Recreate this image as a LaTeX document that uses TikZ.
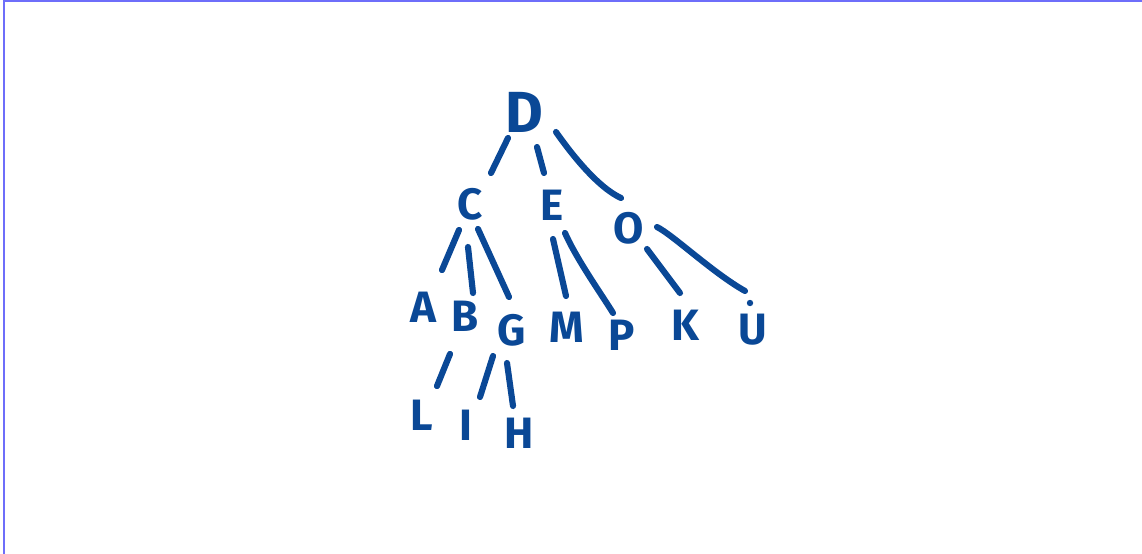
\documentclass[tikz,border=0pt]{standalone}
\usepackage{fontspec}
\setmainfont{Fira Sans}
\usetikzlibrary{calc}
\definecolor{ink}{RGB}{10,72,150}
\definecolor{framec}{RGB}{110,110,250}
\begin{document}
\begin{tikzpicture}[x=0.02cm,y=-0.02cm,
  letter/.style={text=ink,font=\fontsize{25}{25}\selectfont\bfseries,inner sep=0pt},
  big/.style={font=\fontsize{33}{33}\selectfont\bfseries},
  edge/.style={draw=ink,line width=3.5pt,line cap=round}]
\useasboundingbox (0,0) rectangle (1142,554);
\draw[framec,line width=0.9pt] (3.75,554) -- (3.75,1) -- (1142,1);
% nodes
\node[letter,big] (D) at (524,112) {D};
\node[letter] (C) at (470,204) {C};
\node[letter] (E) at (552,205) {E};
\node[letter] (O) at (629,228) {O};
\node[letter] (A) at (423,307) {A};
\node[letter] (B) at (465,316) {B};
\node[letter] (G) at (512,330) {G};
\node[letter] (M) at (567,327) {M};
\node[letter] (P) at (622,335) {P};
\node[letter] (K) at (685,325) {K};
\node[letter] (U) at (753,330) {U};
\node[letter] (L) at (422,415) {L};
\node[letter] (I) at (466,425) {I};
\node[letter] (H) at (519,433) {H};
% connectors
\draw[edge] ($(D)+(-16,26)$) -- ($(C)+(21,-31)$);
\draw[edge] ($(D)+(13,35)$) -- ($(E)+(-8,-32)$);
\draw[edge] ($(D)+(32,20)$) .. controls ($(D)+(46,40)$) and ($(O)+(-32,-41)$) .. ($(O)+(-8,-30)$);
\draw[edge] ($(C)+(-11,26)$) -- ($(A)+(19,-37)$);
\draw[edge] ($(C)+(-2,43)$) -- ($(B)+(8,-23)$);
\draw[edge] ($(C)+(8,25)$) -- ($(G)+(-3,-33)$);
\draw[edge] ($(E)+(1,34)$) -- ($(M)+(-1,-31)$);
\draw[edge] ($(E)+(13,28)$) .. controls ($(E)+(25,55)$) and ($(P)+(-20,-40)$) .. ($(P)+(-9,-22)$);
\draw[edge] ($(O)+(18,21)$) -- ($(K)+(-5,-32)$);
\draw[edge] ($(O)+(28,-1)$) .. controls ($(O)+(44,7)$) and ($(U)+(-40,-57)$) .. ($(U)+(-8,-39)$);
\fill[ink] ($(U)+(-3,-27)$) circle (3.2);
\draw[edge] ($(B)+(-15,38)$) -- ($(L)+(15,-29)$);
\draw[edge] ($(G)+(-19,26)$) -- ($(I)+(14,-28)$);
\draw[edge] ($(G)+(-5,33)$) -- ($(H)+(-6,-27)$);
\end{tikzpicture}
\end{document}
